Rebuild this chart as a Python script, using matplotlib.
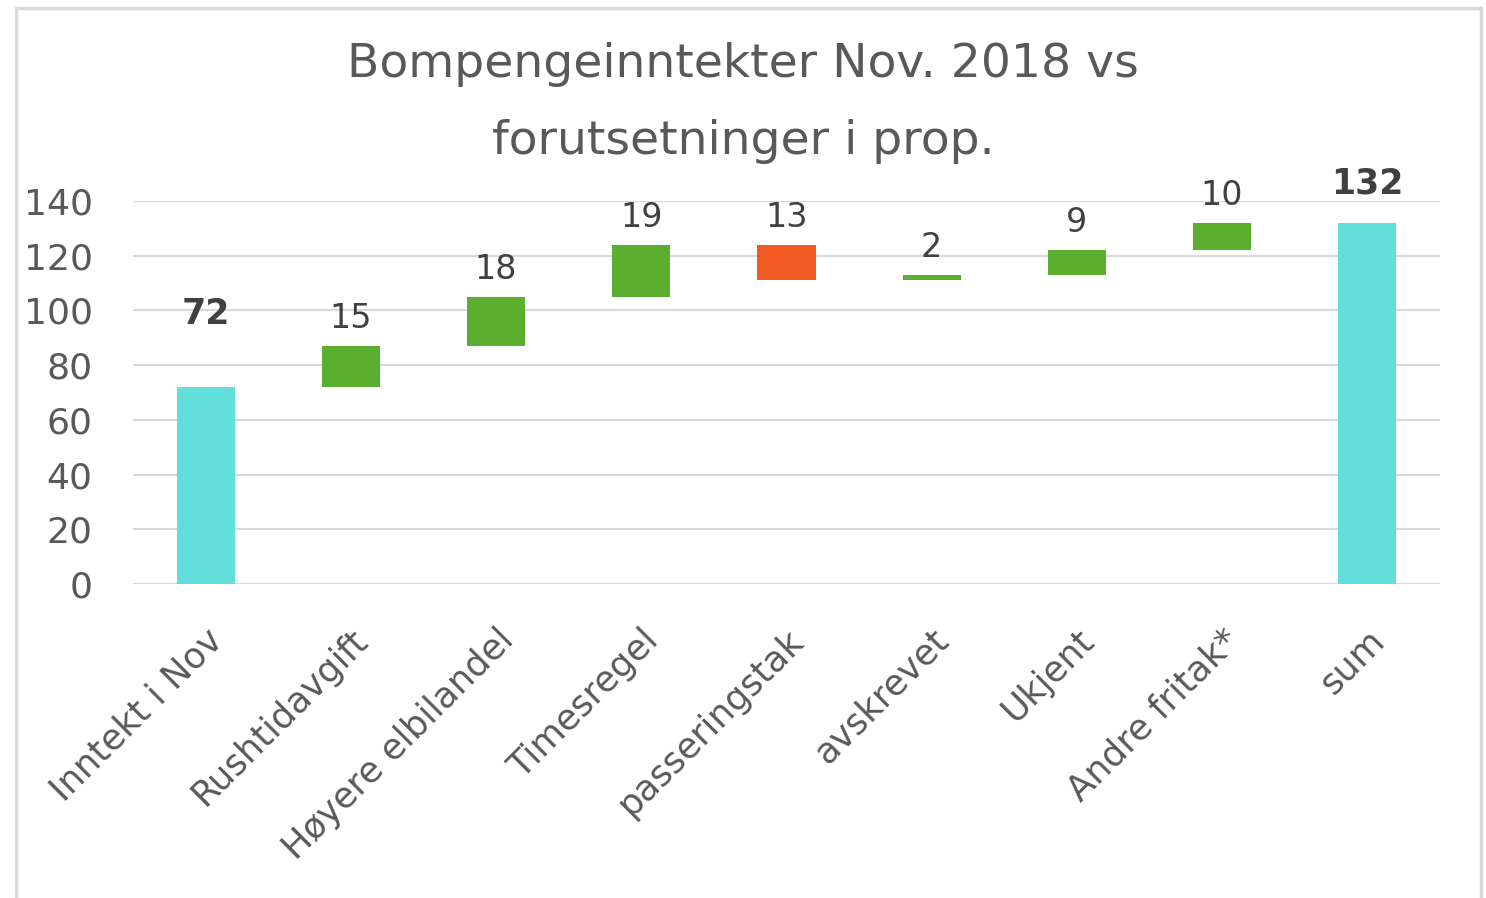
import matplotlib.pyplot as plt
import numpy as np
from matplotlib.patches import Rectangle

categories = ["Inntekt i Nov", "Rushtidavgift", "Høyere elbilandel", "Timesregel",
              "passeringstak", "avskrevet", "Ukjent", "Andre fritak*", "sum"]
changes = [72, 15, 18, 19, -13, 2, 9, 10, 132]
kinds = ["total", "up", "up", "up", "down", "up", "up", "up", "total"]
yticks = [0, 20, 40, 60, 80, 100, 120, 140]

colors = {"total": "#62dfdb", "up": "#5aaf2f", "down": "#f25a25"}
plt.rcParams['font.family'] = ["DejaVu Sans"]

# waterfall bottoms/heights
bottoms, heights = [], []
running = 0
for v, k in zip(changes, kinds):
    if k == "total":
        bottoms.append(0)
        heights.append(v)
        running = v
    elif v >= 0:
        bottoms.append(running)
        heights.append(v)
        running += v
    else:
        bottoms.append(running + v)
        heights.append(-v)
        running += v

fig = plt.figure(figsize=(14.86, 8.98), dpi=100)
ax = fig.add_axes([0.0895, 0.3497, 0.8795, 0.4265])

x = np.arange(len(categories))
ax.bar(x, heights, bottom=bottoms, width=0.4,
       color=[colors[k] for k in kinds], zorder=3)

for i, (b, h, v, k) in enumerate(zip(bottoms, heights, changes, kinds)):
    top = b + h
    if k == "total":
        off = 40 if i == 0 else 16
        ax.annotate(str(abs(v)), (i, top), xytext=(0, off), textcoords="offset points",
                    ha="center", va="bottom", fontsize=25, fontweight="bold", color="#404040")
    else:
        ax.annotate(str(abs(v)), (i, top), xytext=(0, 8), textcoords="offset points",
                    ha="center", va="bottom", fontsize=24, color="#404040")

ax.set_xlim(-0.5, len(categories) - 0.5)
ax.set_ylim(0, 140)
ax.set_yticks(yticks)
ax.yaxis.grid(True, color="#d9d9d9", linewidth=1.5, zorder=0)
ax.set_axisbelow(True)
for s in ax.spines.values():
    s.set_visible(False)
ax.tick_params(axis="y", length=0, labelsize=26, labelcolor="#595959", pad=29)
ax.set_xticks(x)
ax.set_xticklabels(categories, rotation=45, ha="right", va="top",
                   rotation_mode="anchor", fontsize=25.5, color="#595959")
ax.tick_params(axis="x", length=0, pad=28)

fig.text(0.5, 0.928, "Bompengeinntekter Nov. 2018 vs", ha="center", va="center",
         fontsize=34, color="#595959")
fig.text(0.5, 0.842, "forutsetninger i prop.", ha="center", va="center",
         fontsize=34, color="#595959")

# outer frame
fig.patches.append(Rectangle((16 / 1486, -0.05), (1481 - 16) / 1486, 1.05 - 8 / 898,
                             transform=fig.transFigure, fill=False,
                             edgecolor="#d9d9d9", linewidth=2.5))

fig.savefig("out.png", dpi=100)
